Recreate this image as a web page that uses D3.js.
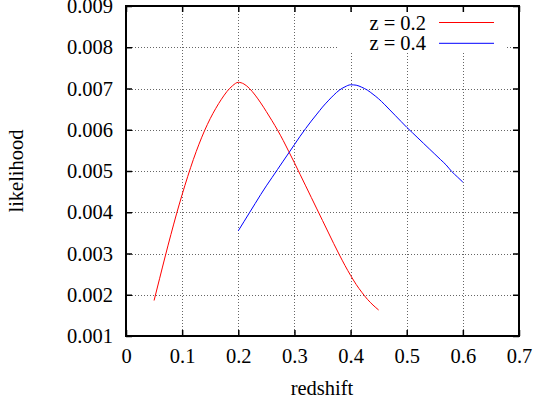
<!DOCTYPE html>
<html>
<head>
<meta charset="utf-8">
<script src="https://cdn.jsdelivr.net/npm/d3@7"></script>
<style>
  body { margin: 0; background: #fff; }
  svg { display: block; }
  text { font-family: "Liberation Serif", "Times New Roman", serif; }
</style>
</head>
<body>
<script>
// values
const redX = [0.05, 0.06, 0.07, 0.08, 0.09, 0.10, 0.11, 0.12, 0.13, 0.14, 0.15, 0.16, 0.17, 0.18, 0.19, 0.20,
    0.21, 0.22, 0.23, 0.24, 0.25, 0.26, 0.27, 0.28, 0.29, 0.30, 0.31, 0.32, 0.33, 0.34, 0.35, 0.36, 0.37, 0.38,
    0.39, 0.40, 0.41, 0.42, 0.43, 0.44, 0.45]
const redY = [0.00186, 0.00240, 0.00294, 0.00346, 0.00396, 0.00443, 0.00487, 0.00528, 0.00565, 0.00598, 0.00627,
    0.00652, 0.00674, 0.00693, 0.00707, 0.00715, 0.00711, 0.00700, 0.00684, 0.00665, 0.00644, 0.00622, 0.00599,
    0.00574, 0.00547, 0.00520, 0.00492, 0.00464, 0.00436, 0.00408, 0.00380, 0.00352, 0.00324, 0.00297, 0.00271,
    0.00247, 0.00225, 0.00206, 0.00189, 0.00175, 0.00163]
const blueX = [0.20, 0.21, 0.22, 0.23, 0.24, 0.25, 0.26, 0.27, 0.28, 0.29, 0.30, 0.31, 0.32, 0.33, 0.34, 0.35,
    0.36, 0.37, 0.38, 0.39, 0.40, 0.41, 0.42, 0.43, 0.44, 0.45, 0.46, 0.47, 0.48, 0.49, 0.50, 0.51, 0.52, 0.53,
    0.54, 0.55, 0.56, 0.57, 0.58, 0.59, 0.60]
const blueY = [0.00355, 0.00377, 0.00399, 0.00421, 0.00443, 0.00464, 0.00484, 0.00504, 0.00524, 0.00544, 0.00564,
    0.00584, 0.00603, 0.00621, 0.00638, 0.00655, 0.00670, 0.00684, 0.00696, 0.00704, 0.00709, 0.00708, 0.00703,
    0.00696, 0.00686, 0.00675, 0.00662, 0.00648, 0.00634, 0.00620, 0.00606, 0.00593, 0.00580, 0.00567, 0.00554,
    0.00541, 0.00528, 0.00515, 0.00499, 0.00486, 0.00473]
const xTicks = [0, 0.1, 0.2, 0.3, 0.4, 0.5, 0.6, 0.7]
const yTicks = [0.001, 0.002, 0.003, 0.004, 0.005, 0.006, 0.007, 0.008, 0.009]
const seriesNames = ["z = 0.2", "z = 0.4"]
const seriesColors = ["#ff0000", "#0000ff"]

const width = 534
const height = 404
const margin = { top: 6, right: 15, bottom: 68, left: 126 }
const fontSize = 20.5
const serif = "'Liberation Serif', 'Times New Roman', serif"

const svg = d3.select("body").append("svg")
    .attr("width", width)
    .attr("height", height)
    .attr("font-family", serif)

const x = d3.scaleLinear().domain([0, 0.7]).range([margin.left, width - margin.right])
const y = d3.scaleLinear().domain([0.001, 0.009]).range([height - margin.bottom, margin.top])

// grid
const grid = svg.append("g")
    .attr("stroke", "#666")
    .attr("stroke-width", 1)
    .attr("stroke-dasharray", "1,2")
grid.selectAll(".gx")
    .data(xTicks.slice(1, -1))
    .join("line")
    .attr("x1", d => Math.round(x(d)) + 0.5)
    .attr("x2", d => Math.round(x(d)) + 0.5)
    .attr("y1", y.range()[0])
    .attr("y2", y.range()[1])
grid.selectAll(".gy")
    .data(yTicks.slice(1, -1))
    .join("line")
    .attr("y1", d => Math.round(y(d)) + 0.5)
    .attr("y2", d => Math.round(y(d)) + 0.5)
    .attr("x1", x.range()[0])
    .attr("x2", x.range()[1])

// legend background hides grid
svg.append("rect")
    .attr("x", 338).attr("y", 12)
    .attr("width", 169).attr("height", 41)
    .attr("fill", "#fff")

// curves
const line = d3.line()
    .x(d => x(d[0]))
    .y(d => y(d[1]))
    .curve(d3.curveMonotoneX)

const series = [d3.zip(redX, redY), d3.zip(blueX, blueY)]
series.forEach((s, i) => {
    svg.append("path")
        .datum(s)
        .attr("fill", "none")
        .attr("stroke", seriesColors[i])
        .attr("stroke-width", 1)
        .attr("d", line)
})

// axes: gnuplot style, ticks inside and mirrored
const tickLen = 6
const axBottom = svg.append("g").attr("transform", `translate(0,${y.range()[0]})`)
    .call(d3.axisBottom(x).tickValues(xTicks).tickSize(-tickLen).tickPadding(12).tickFormat(d => d3.format("")(d)))
const axTop = svg.append("g").attr("transform", `translate(0,${y.range()[1]})`)
    .call(d3.axisTop(x).tickValues(xTicks).tickSize(-tickLen).tickFormat(""))
const axLeft = svg.append("g").attr("transform", `translate(${x.range()[0]},0)`)
    .call(d3.axisLeft(y).tickValues(yTicks).tickSize(-tickLen).tickPadding(13).tickFormat(d3.format(".3f")))
const axRight = svg.append("g").attr("transform", `translate(${x.range()[1]},0)`)
    .call(d3.axisRight(y).tickValues(yTicks).tickSize(-tickLen).tickFormat(""))

;[axBottom, axTop, axLeft, axRight].forEach(g => {
    g.attr("font-family", serif).attr("font-size", fontSize)
    g.select(".domain").remove()
    g.selectAll(".tick line").attr("stroke", "#000").attr("stroke-width", 1.5)
    g.selectAll(".tick text").attr("fill", "#000")
})

// frame
svg.append("rect")
    .attr("x", x.range()[0]).attr("y", y.range()[1])
    .attr("width", x.range()[1] - x.range()[0])
    .attr("height", y.range()[0] - y.range()[1])
    .attr("fill", "none")
    .attr("stroke", "#000")
    .attr("stroke-width", 2)

// axis titles
svg.append("text")
    .attr("x", 322).attr("y", 395)
    .attr("text-anchor", "middle")
    .attr("font-size", fontSize)
    .text("redshift")
svg.append("text")
    .attr("transform", `translate(23,171) rotate(-90)`)
    .attr("text-anchor", "middle")
    .attr("font-size", fontSize)
    .text("likelihood")

// legend
const legendY = [22.5, 43.3]
seriesNames.forEach((name, i) => {
    svg.append("text")
        .attr("x", 426).attr("y", legendY[i])
        .attr("dy", "0.35em")
        .attr("text-anchor", "end")
        .attr("font-size", fontSize)
        .text(name)
    svg.append("line")
        .attr("x1", 439).attr("x2", 494)
        .attr("y1", legendY[i]).attr("y2", legendY[i])
        .attr("stroke", seriesColors[i])
        .attr("stroke-width", 1)
})
</script>
</body>
</html>
